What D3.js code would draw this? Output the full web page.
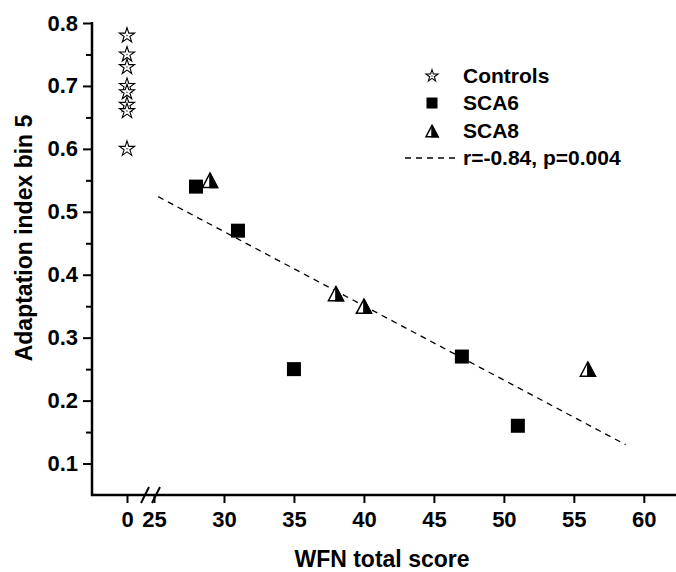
<!DOCTYPE html>
<html>
<head>
<meta charset="utf-8">
<script src="https://cdn.jsdelivr.net/npm/d3@7"></script>
<style>
  body { margin: 0; background: #fff; }
  svg text { font-family: "Liberation Sans", Arial, Helvetica, sans-serif; font-weight: bold; fill: #000; }
</style>
</head>
<body>
<div id="chart"></div>
<script>
// Controls (all at WFN score 0)
const controlScores = [0, 0, 0, 0, 0, 0, 0, 0];
const controlValues = [0.78, 0.75, 0.73, 0.70, 0.69, 0.67, 0.66, 0.60];

// SCA6 patients
const sca6Scores = [28, 31, 35, 47, 51];
const sca6Values = [0.54, 0.47, 0.25, 0.27, 0.16];

// SCA8 patients
const sca8Scores = [29, 38, 40, 56];
const sca8Values = [0.55, 0.37, 0.35, 0.25];

// regression fit endpoints
const fitScores = [25.3, 58.7];
const fitValues = [0.524, 0.130];

const yTicks = [0.1, 0.2, 0.3, 0.4, 0.5, 0.6, 0.7, 0.8];
const yMinorTicks = [0.15, 0.25, 0.35, 0.45, 0.55, 0.65, 0.75];
const xTicks = [25, 30, 35, 40, 45, 50, 55, 60];

const legendLabels = ["Controls", "SCA6", "SCA8", "r=-0.84, p=0.004"];

const width = 676, height = 572;

const svg = d3.select("#chart")
    .append("svg")
    .attr("width", width)
    .attr("height", height);

// scales: broken x axis, a small segment for controls and the main one
const y = d3.scaleLinear().domain([0.05, 0.8]).range([495, 23]);
const xCtrl = d3.scaleLinear().domain([-2.5, 1]).range([92, 141]);
const x = d3.scaleLinear().domain([25, 62.3]).range([154, 676]);

// y axis
const yAxis = svg.append("g")
    .attr("transform", "translate(92,0)")
    .call(d3.axisLeft(y).tickValues(yTicks).tickSize(9).tickSizeOuter(0)
        .tickFormat(d3.format(".1f")));
yAxis.select(".domain").remove();
yAxis.selectAll(".tick line").attr("stroke-width", 2);
yAxis.selectAll(".tick text").attr("x", -14).attr("font-size", 22);

const yMinor = svg.append("g")
    .attr("transform", "translate(92,0)")
    .call(d3.axisLeft(y).tickValues(yMinorTicks).tickSize(6).tickFormat(""));
yMinor.select(".domain").remove();
yMinor.selectAll(".tick line").attr("stroke-width", 2);

svg.append("line")
    .attr("x1", 92).attr("x2", 92)
    .attr("y1", y(0.8) - 1).attr("y2", 496)
    .attr("stroke", "#000").attr("stroke-width", 2.5);

// x axis
const xAxis = svg.append("g")
    .attr("transform", "translate(0,495)")
    .call(d3.axisBottom(x).tickValues(xTicks).tickSize(8).tickSizeOuter(0));
const xAxisCtrl = svg.append("g")
    .attr("transform", "translate(0,495)")
    .call(d3.axisBottom(xCtrl).tickValues([0]).tickSize(8).tickSizeOuter(0)
        .tickFormat(d3.format("d")));
[xAxis, xAxisCtrl].forEach(g => {
    g.select(".domain").remove();
    g.selectAll(".tick line").attr("stroke-width", 2);
    g.selectAll(".tick text").attr("y", 16).attr("font-size", 22);
});

svg.append("line")
    .attr("x1", 91).attr("x2", width)
    .attr("y1", 495).attr("y2", 495)
    .attr("stroke", "#000").attr("stroke-width", 2.5);

// axis break marks
[145, 156].forEach(bx => {
    svg.append("line")
        .attr("x1", bx - 4).attr("y1", 503)
        .attr("x2", bx + 4).attr("y2", 487)
        .attr("stroke", "#000").attr("stroke-width", 2);
});

// axis titles
svg.append("text")
    .attr("x", 382).attr("y", 567)
    .attr("text-anchor", "middle")
    .attr("font-size", 23)
    .text("WFN total score");

svg.append("text")
    .attr("transform", "translate(32,238) rotate(-90)")
    .attr("text-anchor", "middle")
    .attr("font-size", 23)
    .text("Adaptation index bin 5");

// regression line
svg.append("line")
    .attr("x1", x(fitScores[0])).attr("y1", y(fitValues[0]))
    .attr("x2", x(fitScores[1])).attr("y2", y(fitValues[1]))
    .attr("stroke", "#000").attr("stroke-width", 1.3)
    .attr("stroke-dasharray", "6,5");

// marker helpers
const starPath = d3.symbol().type(d3.symbolStar);

function drawStar(g, cx, cy, size) {
    g.append("path")
        .attr("d", starPath.size(size)())
        .attr("transform", `translate(${cx},${cy})`)
        .attr("fill", "#fff").attr("stroke", "#000").attr("stroke-width", 1.1);
    g.append("circle")
        .attr("cx", cx).attr("cy", cy).attr("r", 0.8)
        .attr("fill", "#444");
}

function drawSquare(g, cx, cy, s) {
    g.append("rect")
        .attr("x", cx - s / 2).attr("y", cy - s / 2)
        .attr("width", s).attr("height", s)
        .attr("fill", "#000");
}

function drawTriangle(g, cx, cy, w) {
    const h = w * 0.95;
    const top = cy - h / 2, bot = cy + h / 2;
    g.append("path")
        .attr("d", `M${cx},${top}L${cx + w / 2},${bot}L${cx - w / 2},${bot}Z`)
        .attr("fill", "#fff").attr("stroke", "#000").attr("stroke-width", 1.5)
        .attr("stroke-linejoin", "miter");
    g.append("path")
        .attr("d", `M${cx},${top}L${cx + w / 2},${bot}L${cx},${bot}Z`)
        .attr("fill", "#000").attr("stroke", "#000").attr("stroke-width", 1.5);
}

const marks = svg.append("g");

controlValues.forEach((v, i) => drawStar(marks, xCtrl(controlScores[i]), y(v), 72));
sca6Values.forEach((v, i) => drawSquare(marks, x(sca6Scores[i]), y(v), 14));
sca8Values.forEach((v, i) => drawTriangle(marks, x(sca8Scores[i]), y(v), 15));

// legend
const legend = svg.append("g");
const lx = 432, tx = 463;
const rows = [76, 103, 131, 158];

drawStar(legend, lx, rows[0], 45);
drawSquare(legend, lx, rows[1], 11);
drawTriangle(legend, lx, rows[2], 12);
legend.append("line")
    .attr("x1", 405).attr("x2", 457)
    .attr("y1", rows[3]).attr("y2", rows[3])
    .attr("stroke", "#000").attr("stroke-width", 1.3)
    .attr("stroke-dasharray", "6,5");

legendLabels.forEach((t, i) => {
    legend.append("text")
        .attr("x", tx).attr("y", rows[i] + 7)
        .attr("font-size", 21)
        .text(t);
});
</script>
</body>
</html>
